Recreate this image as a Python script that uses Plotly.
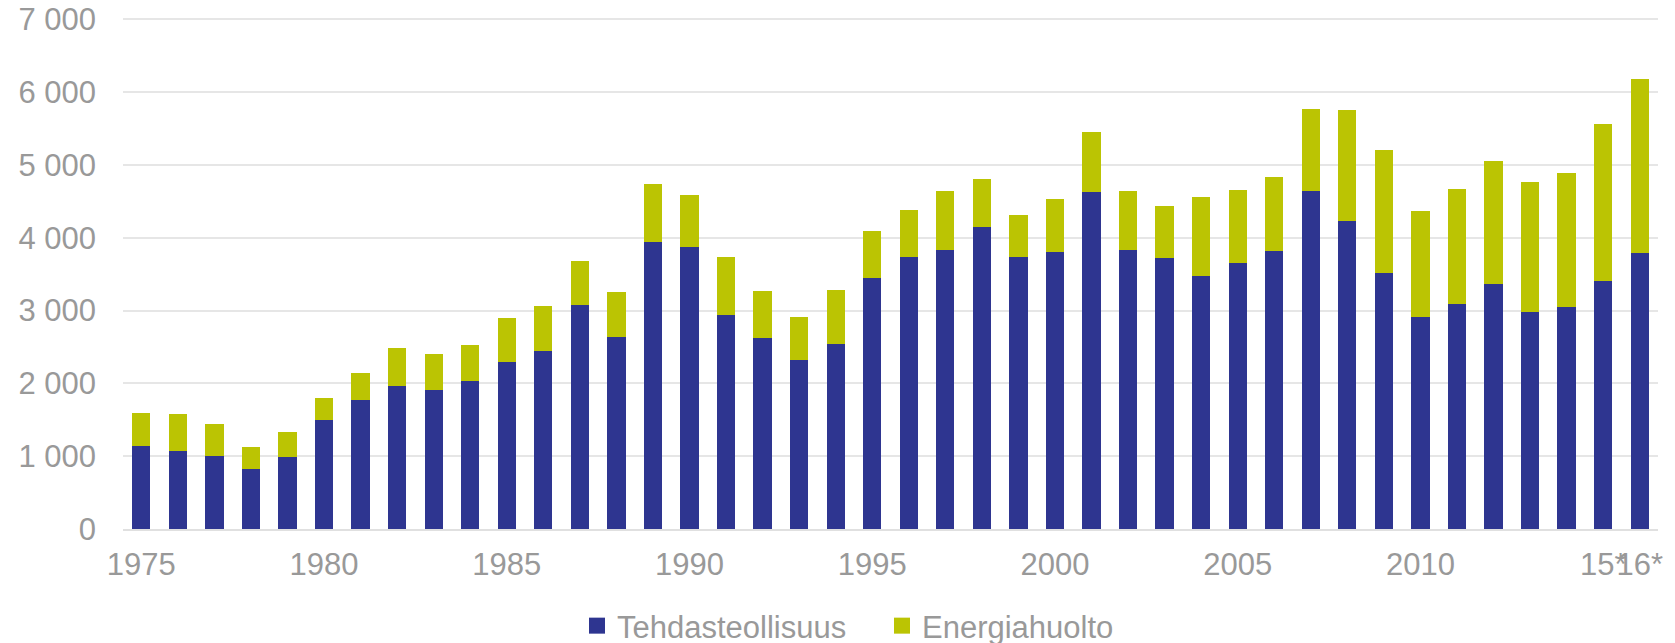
import plotly.graph_objects as go

years = [str(y) for y in range(1975, 2017)]
tehdas = [1140, 1066, 1002, 825, 992, 1493, 1773, 1959, 1910, 2028,
          2293, 2445, 3084, 2642, 3938, 3869, 2946, 2627, 2327, 2548,
          3442, 3741, 3839, 4149, 3732, 3806, 4625, 3839, 3717, 3482,
          3653, 3820, 4649, 4237, 3511, 2907, 3088, 3368, 2975, 3044,
          3412, 3791]
totals = [1590, 1576, 1439, 1125, 1331, 1803, 2146, 2489, 2406, 2529,
          2897, 3069, 3682, 3255, 4742, 4595, 3732, 3270, 2912, 3284,
          4090, 4384, 4645, 4811, 4311, 4536, 5459, 4645, 4443, 4557,
          4660, 4836, 5764, 5754, 5209, 4365, 4669, 5052, 4763, 4890,
          5562, 6177]
energia = [t - s for t, s in zip(totals, tehdas)]

series_names = ["Tehdasteollisuus", "Energiahuolto"]
tick_vals = ["1975", "1980", "1985", "1990", "1995", "2000", "2005", "2010", "2015", "2016"]
tick_text = ["1975", "1980", "1985", "1990", "1995", "2000", "2005", "2010", "15*", "16*"]
y_ticks = [0, 1000, 2000, 3000, 4000, 5000, 6000, 7000]

BLUE = "#2E3590"
GREEN = "#BBC403"
GRAY = "#999999"
FS = 31

# page body has an 8px default margin; size the figure to fit the window
W, H = 1667, 635

fig = go.Figure()
for vals, name, col in [(tehdas, series_names[0], BLUE), (energia, series_names[1], GREEN)]:
    fig.add_trace(go.Bar(x=years, y=vals, name=name, showlegend=False, legendgroup=name,
                         marker=dict(color=col, line=dict(width=0))))
for name, col in [(series_names[0], BLUE), (series_names[1], GREEN)]:
    fig.add_trace(go.Scatter(x=[None], y=[None], mode="markers", name=name, legendgroup=name,
                             marker=dict(symbol="square", size=16, color=col)))

fig.update_layout(
    barmode="stack",
    bargap=0.5,
    width=W, height=H,
    margin=dict(l=115, r=17, t=10, b=114, autoexpand=False),
    paper_bgcolor="white", plot_bgcolor="white",
    separators=", ",
    font=dict(family="Liberation Sans, Arial, sans-serif", size=FS, color=GRAY),
    showlegend=True,
    legend=dict(orientation="h", xref="container", yref="container",
                x=(597 - 8 - 20) / W, xanchor="left", y=1 - (626 - 8) / H, yanchor="middle",
                traceorder="normal", itemsizing="trace", entrywidth=260,
                font=dict(size=FS, color=GRAY), itemwidth=30,
                bgcolor="rgba(0,0,0,0)"),
    xaxis=dict(type="category", tickmode="array", tickvals=tick_vals, ticktext=tick_text,
               tickangle=0, automargin=False,
               showgrid=False, ticks="", showline=True, linecolor="#E0E0E0", linewidth=2,
               tickfont=dict(size=FS, color=GRAY), ticklabelstandoff=7),
    yaxis=dict(range=[0, 7020], tickmode="array", tickvals=y_ticks,
               tickformat=",d", showgrid=True, gridcolor="#E6E6E6", gridwidth=1.5,
               automargin=False, ticklabeloverflow="allow",
               zeroline=False, ticks="", tickfont=dict(size=FS, color=GRAY),
               ticklabelstandoff=26),
)

fig.write_html("out.html")
